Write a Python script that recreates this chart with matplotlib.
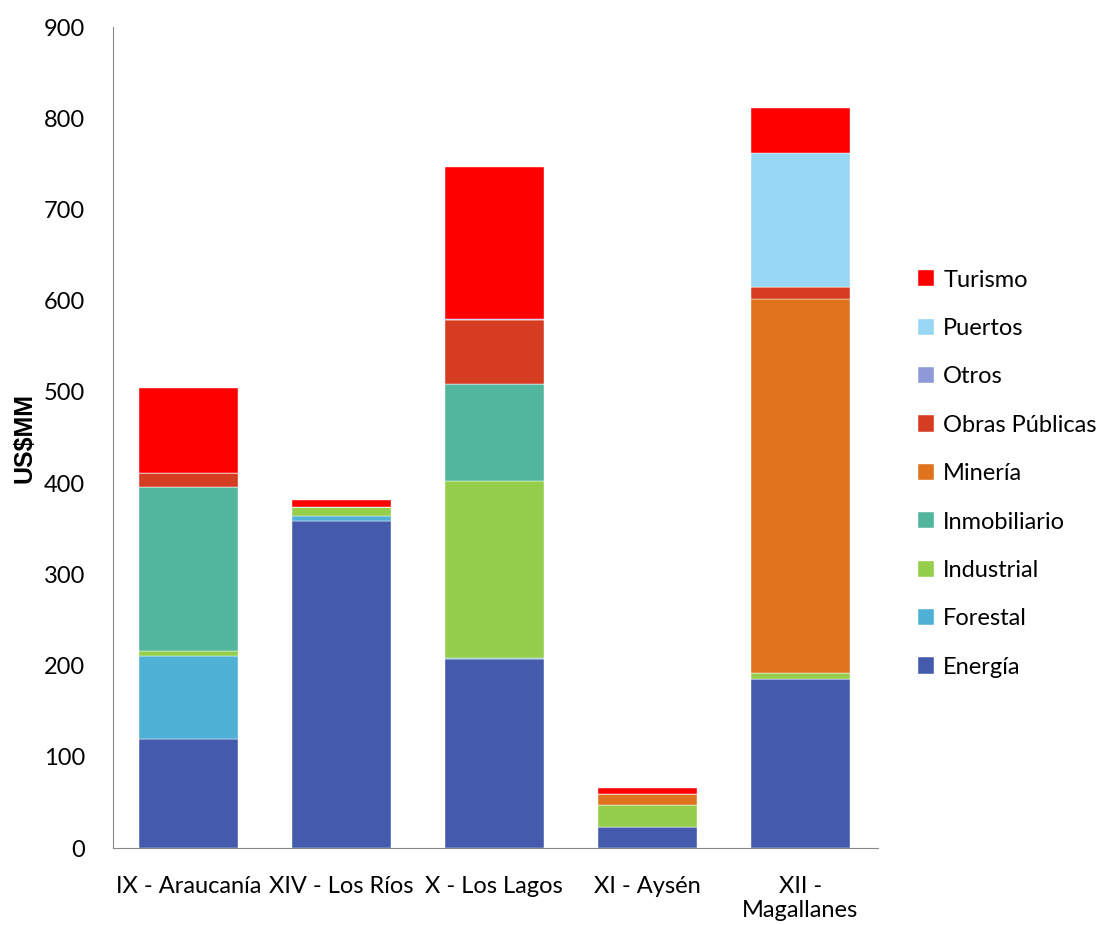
import matplotlib
matplotlib.use("Agg")
import matplotlib.pyplot as plt
import numpy as np

plt.rcParams['font.family'] = ['Lato', 'DejaVu Sans']

regions = ['IX - Araucanía', 'XIV - Los Ríos', 'X - Los Lagos', 'XI - Aysén', 'XII -\nMagallanes']
sectors = ['Energía', 'Forestal', 'Industrial', 'Inmobiliario', 'Minería',
           'Obras Públicas', 'Otros', 'Puertos', 'Turismo']

energia = [120, 359, 207, 22.7, 185]
forestal = [90, 5.5, 1.5, 0, 0]
industrial = [6.5, 9.5, 194, 24.4, 7]
inmobiliario = [179, 0, 106, 0, 0]
mineria = [0, 0, 0, 12.5, 410]
obras = [15.5, 0, 70, 0, 13]
otros = [0, 0, 1, 0, 0]
puertos = [0, 0, 0, 0, 147]
turismo = [93.5, 8, 167, 5.8, 49]

colors = ['#445AAD', '#4FB1D6', '#94CE4B', '#51B69B', '#E0711D',
          '#D63C21', '#8E9AD8', '#97D7F3', '#FF0000']

series = [energia, forestal, industrial, inmobiliario, mineria,
          obras, otros, puertos, turismo]

fig = plt.figure(figsize=(11.02, 9.25), dpi=100)
ax = fig.add_axes([0.1025, 0.0832, 0.694, 0.8876])

x = np.arange(len(regions))
bottom = np.zeros(len(regions))
handles = []
for name, vals, col in zip(sectors, series, colors):
    b = ax.bar(x, vals, 0.647, bottom=bottom, color=col, label=name,
               edgecolor='white', linewidth=0.3)
    handles.append(b)
    bottom += np.array(vals)

ax.set_xlim(-0.493, 4.507)
ax.set_ylim(0, 900)
ax.set_yticks(range(0, 901, 100))
ax.set_xticks(x)
ax.set_xticklabels(regions)
ax.tick_params(axis='both', length=0, labelsize=17, colors='black')
ax.tick_params(axis='y', pad=20)
ax.tick_params(axis='x', pad=20)

for s in ['top', 'right']:
    ax.spines[s].set_visible(False)
ax.spines['left'].set_color('#888888')
ax.spines['bottom'].set_color('#888888')

ax.set_ylabel('US$MM', fontsize=18, fontweight='bold',
              family=['Liberation Sans Narrow', 'Liberation Sans', 'DejaVu Sans'])
ax.yaxis.set_label_coords(-0.1, 0.5)

leg = ax.legend(handles[::-1], sectors[::-1], loc='center left',
                bbox_to_anchor=(1.04, 0.456), frameon=False, fontsize=17,
                handlelength=0.68, handleheight=0.68, handletextpad=0.4,
                labelspacing=1.16, borderaxespad=0)

fig.savefig('out.png', dpi=100)
